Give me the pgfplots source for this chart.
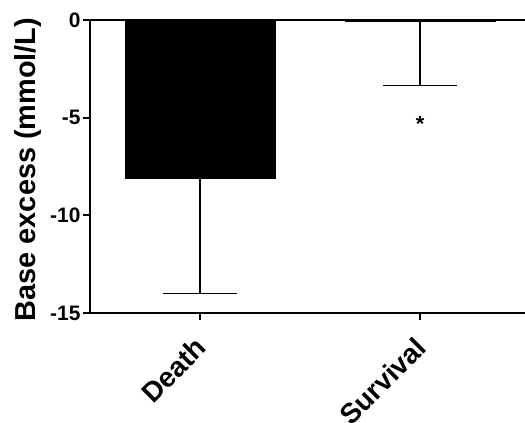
\documentclass[border=0pt]{standalone}
\usepackage{pgfplots}
\pgfplotsset{compat=1.18}
\usepackage{fontspec}
\setmainfont{Liberation Sans}
\begin{document}
\begin{tikzpicture}
\begin{axis}[
  at={(0,0)}, anchor=south west,
  scale only axis, width=435bp, height=293bp,
  xmin=-0.5, xmax=1.477, ymin=-15, ymax=0,
  axis x line*=bottom, axis y line*=left,
  axis line style={line width=2.5bp, -},
  xtick={0,1}, xticklabels={Death,Survival},
  ytick={-15,-10,-5,0},
  tick style={line width=2bp, black},
  major tick length=7bp,
  tick align=outside,
  /pgf/number format/assume math mode=true,
  x tick label style={rotate=45, anchor=north east, xshift=-12bp, yshift=-3bp, font=\bfseries\fontsize{28}{28}\selectfont},
  y tick label style={font=\bfseries\fontsize{21}{21}\selectfont, xshift=1bp},
  ylabel={Base excess (mmol/L)},
  ylabel style={font=\bfseries\fontsize{29}{29}\selectfont, at={(axis description cs:-0.142,0.49)}, anchor=center},
  clip=false,
]
\addplot[ybar, bar width=0.68, fill=black, draw=black,
  error bars/.cd, y dir=minus, y explicit,
  error bar style={line width=1.7bp, black},
  error mark options={rotate=90, mark size=37bp, line width=1.7bp, black}]
  coordinates {(0,-8.1) -= (0,5.9) (1,-0.05) -= (0,3.3)};
\draw[line width=2.8bp] (axis cs:-0.5,0) -- (axis cs:1.477,0);
\node[anchor=base, font=\bfseries\fontsize{22}{22}\selectfont] at (axis cs:1,-5.7) {*};
\end{axis}
\pgfresetboundingbox
\path (-90bp,-110bp) rectangle (435bp,313bp);
\end{tikzpicture}
\end{document}
